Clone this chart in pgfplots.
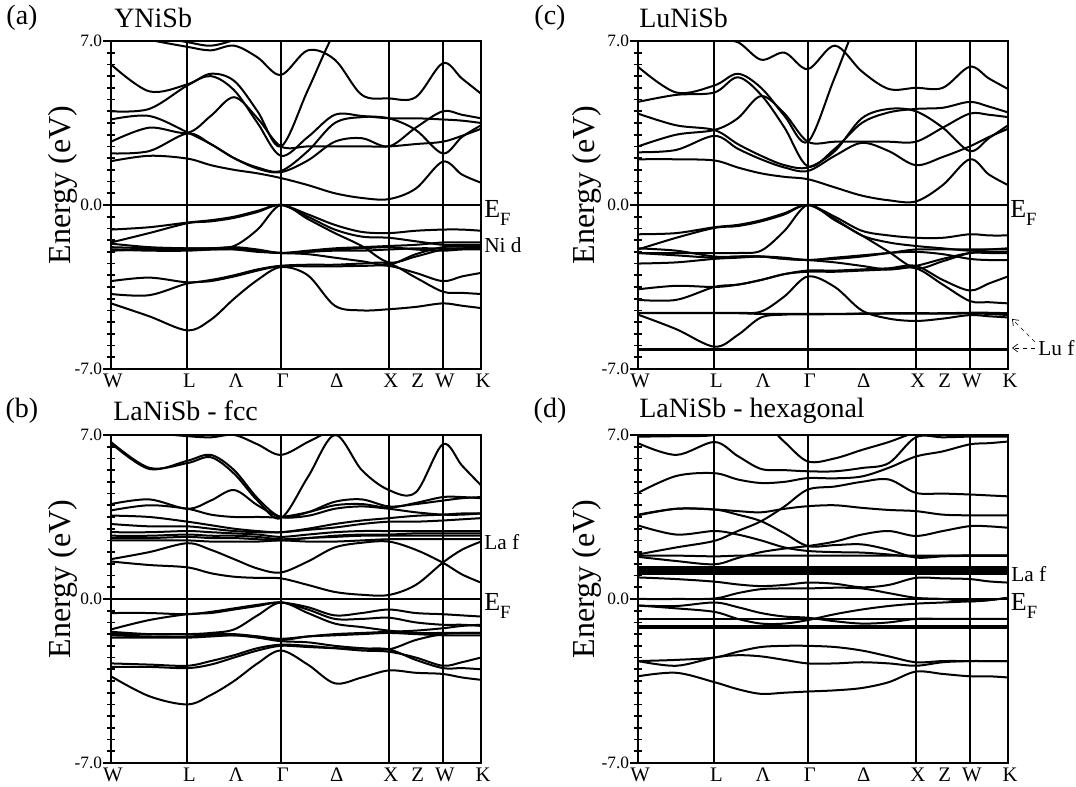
\documentclass[border=0pt]{standalone}
\usepackage{fontspec}
\setmainfont{Liberation Serif}
\usepackage{pgfplots}
\usepackage{pgfplotstable}
\pgfplotsset{compat=1.18}
\usetikzlibrary{arrows.meta,calc}

% ---------- Panel (a) YNiSb ----------
\pgfplotstableread{
band p0 p1 p2 p3 p4 p5 p6 p7 p8 p9 p10 p11 p12 p13 p14
x 0 0.354 0.707 0.924 1.140 1.357 1.573 1.823 2.073 2.323 2.573 2.823 3.073 3.250 3.427
a1 -4.2 -4.75 -5.35 -4.9 -4.0 -3.2 -2.65 -3.0 -4.3 -4.5 -4.45 -4.35 -4.2 -4.3 -4.4
a2 -3.8 -3.85 -3.35 -3.25 -3.05 -2.8 -2.6 -2.55 -2.55 -2.5 -2.5 -3.1 -3.7 -3.75 -3.8
a3 -3.25 -3.1 -3.3 -3.2 -3.0 -2.75 -2.6 -2.62 -2.62 -2.6 -2.6 -2.9 -3.25 -3.05 -2.9
a4 -1.65 -1.8 -1.85 -1.85 -1.85 -1.95 -2.05 -1.95 -1.85 -1.8 -1.75 -1.7 -1.6 -1.6 -1.6
a5 -1.8 -1.85 -1.9 -1.9 -1.9 -2.0 -2.05 -2.1 -2.25 -2.4 -2.55 -2.1 -1.8 -1.75 -1.75
a6 -1.9 -1.95 -1.95 -1.9 -1.88 -1.95 -2.05 -2.0 -1.95 -1.95 -1.9 -1.85 -1.85 -1.85 -1.85
a7 -1.95 -1.9 -1.85 -1.85 -1.8 -1.9 -2.05 -2.0 -1.9 -1.85 -1.8 -1.9 -1.95 -1.9 -1.9
a8 -1.05 -0.95 -0.75 -0.65 -0.5 -0.25 0 -0.4 -0.85 -1.15 -1.2 -1.1 -1.05 -1.05 -1.1
a9 -1.6 -1.2 -0.78 -0.7 -0.55 -0.3 0 -0.5 -1.05 -1.35 -1.4 -1.55 -1.7 -1.7 -1.7
a10 -1.9 -1.9 -1.88 -1.85 -1.75 -1.05 0 -0.6 -1.2 -1.75 -2.45 -2.2 -1.9 -1.85 -1.8
a11 1.87 2.1 1.98 1.7 1.5 1.35 1.15 0.85 0.5 0.3 0.25 0.7 1.85 1.3 0.95
a12 2.2 2.3 3.05 2.6 2.0 1.55 1.4 1.9 2.7 2.85 2.5 3.3 4.0 3.85 3.7
a13 2.7 3.3 3.08 3.8 4.6 3.7 2.5 2.5 2.5 2.5 2.5 2.6 2.7 2.95 3.25
a14 3.65 3.8 3.1 2.6 2.0 1.6 1.45 2.3 3.5 3.75 3.7 3.2 2.2 2.9 3.4
a15 4.0 4.1 5.1 5.5 4.9 3.5 2.1 2.9 3.85 3.8 3.7 3.7 3.65 3.6 3.5
a16 6.0 4.85 5.15 5.6 5.3 4.0 2.5 4.9 7.4 9 9 9 9 9 9
a17 7.4 7.05 6.75 6.6 6.8 6.3 5.55 6.6 6.2 4.7 4.55 4.6 6.05 5.4 4.75
a18 7.6 7.25 6.95 6.8 7.05 7.5 8 8 8 8 8 8 8 8 8
}\rawA
\pgfplotstabletranspose[colnames from=band]\tabA{\rawA}

% ---------- Panel (b) LaNiSb fcc ----------
\pgfplotstableread{
band p0 p1 p2 p3 p4 p5 p6 p7 p8 p9 p10 p11 p12 p13 p14
x 0 0.354 0.707 0.924 1.140 1.357 1.573 1.823 2.073 2.323 2.573 2.823 3.073 3.250 3.427
b1 -3.3 -4.15 -4.5 -4.1 -3.5 -2.75 -2.2 -2.8 -3.6 -3.35 -3.05 -3.15 -3.2 -3.35 -3.45
b2 -2.75 -2.8 -2.85 -2.65 -2.4 -2.1 -1.95 -2.0 -2.1 -2.2 -2.25 -2.5 -2.85 -2.7 -2.5
b3 -2.9 -2.9 -2.95 -2.8 -2.5 -2.2 -2.0 -2.05 -2.1 -2.12 -2.15 -2.6 -2.95 -2.95 -3.0
b4 -1.4 -1.5 -1.5 -1.5 -1.5 -1.6 -1.75 -1.6 -1.5 -1.45 -1.4 -1.35 -1.25 -1.15 -1.1
b5 -1.55 -1.6 -1.6 -1.55 -1.55 -1.65 -1.8 -1.85 -2.0 -2.1 -2.15 -1.75 -1.5 -1.45 -1.45
b6 -1.65 -1.65 -1.65 -1.6 -1.55 -1.6 -1.7 -1.6 -1.55 -1.5 -1.45 -1.5 -1.55 -1.55 -1.55
b7 -0.6 -0.6 -0.65 -0.55 -0.4 -0.25 -0.15 -0.35 -0.7 -0.6 -0.45 -0.6 -0.65 -0.7 -0.75
b8 -1.3 -0.9 -0.65 -0.6 -0.45 -0.3 -0.15 -0.45 -0.85 -0.85 -0.8 -1.0 -1.1 -1.1 -1.15
b9 -1.5 -1.5 -1.5 -1.45 -1.3 -0.7 -0.15 -0.6 -1.05 -1.2 -1.35 -1.45 -1.45 -1.45 -1.45
b10 1.6 1.45 1.35 1.1 0.95 0.9 0.88 0.6 0.3 0.18 0.17 0.6 1.55 2.1 2.45
b11 1.7 2.0 2.38 2.1 1.7 1.3 1.13 1.6 2.2 2.4 2.45 2.1 1.55 1.05 0.7
b12 2.5 2.5 2.5 2.45 2.45 2.45 2.5 2.45 2.45 2.5 2.55 2.55 2.55 2.55 2.55
b13 2.6 2.6 2.65 2.6 2.6 2.55 2.5 2.6 2.65 2.7 2.7 2.7 2.7 2.7 2.7
b14 2.7 2.7 2.75 2.7 2.7 2.65 2.55 2.6 2.7 2.75 2.75 2.8 2.8 2.8 2.8
b15 2.85 2.85 2.9 2.85 2.8 2.75 2.65 2.75 2.85 2.9 2.9 2.9 2.9 2.9 2.9
b16 3.2 3.1 3.1 3.0 2.9 2.85 2.85 2.95 3.05 3.2 3.3 3.3 3.35 3.4 3.45
b17 3.56 3.5 3.3 3.15 3.0 2.9 2.85 3.0 3.2 3.35 3.45 3.55 3.6 3.65 3.65
b18 4.05 4.25 3.85 4.2 4.65 4.0 3.5 3.55 3.85 3.95 3.85 3.7 3.6 3.6 3.65
b19 3.78 4.0 3.85 3.6 3.5 3.5 3.5 3.7 4.0 4.05 3.9 4.1 4.35 4.35 4.3
b20 6.65 5.55 5.9 6.15 5.5 4.3 3.5 3.7 4.15 4.25 3.95 4.05 4.2 4.3 4.35
b21 7.3 7.1 6.95 6.9 7.0 6.6 6.15 6.7 7.3 8 8 8 8 8 8
b22 6.7 5.6 5.8 6.05 5.35 4.2 3.45 5.2 7.0 5.5 4.65 4.55 6.6 5.7 4.85
}\rawB
\pgfplotstabletranspose[colnames from=band]\tabB{\rawB}

% ---------- Panel (c) LuNiSb ----------
\pgfplotstableread{
band p0 p1 p2 p3 p4 p5 p6 p7 p8 p9 p10 p11 p12 p13 p14
x 0 0.354 0.707 0.924 1.140 1.357 1.573 1.823 2.073 2.323 2.573 2.823 3.073 3.250 3.427
c1 -6.15 -6.15 -6.15 -6.15 -6.15 -6.15 -6.15 -6.15 -6.15 -6.15 -6.15 -6.15 -6.15 -6.15 -6.15
c2 -6.2 -6.2 -6.2 -6.2 -6.2 -6.2 -6.2 -6.2 -6.2 -6.2 -6.2 -6.2 -6.2 -6.2 -6.2
c3 -4.6 -4.6 -4.6 -4.6 -4.55 -3.9 -3.05 -3.5 -4.5 -4.85 -4.95 -4.85 -4.7 -4.75 -4.8
c4 -4.62 -4.62 -4.62 -4.62 -4.65 -4.65 -4.65 -4.65 -4.63 -4.62 -4.62 -4.62 -4.6 -4.6 -4.62
c5 -4.68 -5.3 -6.05 -5.55 -4.8 -4.68 -4.67 -4.66 -4.65 -4.64 -4.64 -4.64 -4.63 -4.65 -4.7
c6 -3.6 -3.45 -3.5 -3.4 -3.2 -2.95 -2.8 -2.8 -2.75 -2.7 -2.6 -3.2 -3.65 -3.35 -3.05
c7 -4.05 -4.05 -3.5 -3.4 -3.2 -2.95 -2.85 -2.85 -2.8 -2.75 -2.7 -3.4 -4.1 -4.15 -4.2
c8 -1.85 -1.95 -2.2 -2.2 -2.2 -2.3 -2.35 -2.3 -2.2 -2.05 -1.9 -1.9 -1.9 -1.9 -1.9
c9 -2.05 -2.15 -2.25 -2.2 -2.2 -2.3 -2.35 -2.45 -2.6 -2.75 -2.6 -2.3 -2.05 -2.05 -2.05
c10 -2.5 -2.45 -2.3 -2.25 -2.2 -2.25 -2.35 -2.25 -2.15 -2.05 -2.0 -2.1 -2.3 -2.35 -2.35
c11 -1.25 -1.2 -0.95 -0.85 -0.65 -0.35 0 -0.5 -1.1 -1.3 -1.4 -1.4 -1.25 -1.3 -1.3
c12 -1.9 -1.4 -0.98 -0.9 -0.7 -0.4 0 -0.6 -1.3 -1.6 -1.75 -1.85 -1.95 -1.9 -1.85
c13 -2.05 -2.05 -2.05 -2.05 -1.95 -1.1 0 -0.65 -1.3 -2.0 -2.7 -2.4 -2.05 -2.0 -2.0
c14 1.95 1.95 1.9 1.6 1.35 1.2 1.1 0.75 0.4 0.2 0.15 0.85 1.95 1.3 0.85
c15 2.25 2.35 2.95 2.4 1.95 1.6 1.45 2.1 2.65 2.3 1.7 2.05 2.5 2.9 3.25
c16 2.5 3.0 3.2 3.7 4.65 3.9 2.7 2.7 2.7 2.7 2.7 3.3 3.9 3.85 3.75
c17 3.9 3.4 3.2 2.6 2.1 1.7 1.6 2.3 3.7 4.1 4.0 3.3 2.3 2.85 3.4
c18 4.4 4.7 4.8 5.45 4.7 3.3 1.65 2.4 3.5 3.95 4.1 4.15 4.4 4.2 3.95
c19 5.9 4.8 5.1 5.6 5.0 3.8 2.7 5.45 8.2 9 9 9 9 9 9
c20 7.6 7.3 7.05 6.95 6.2 6.5 5.8 6.8 5.7 4.95 5.0 5.0 5.9 5.4 4.95
}\rawC
\pgfplotstabletranspose[colnames from=band]\tabC{\rawC}

% ---------- Panel (d) LaNiSb hexagonal ----------
\pgfplotstableread{
band p0 p1 p2 p3 p4 p5 p6 p7 p8 p9 p10 p11 p12 p13 p14
x 0 0.354 0.707 0.924 1.140 1.357 1.573 1.823 2.073 2.323 2.573 2.823 3.073 3.250 3.427
d1 -3.3 -3.15 -3.55 -3.85 -4.05 -4.0 -3.95 -3.9 -3.8 -3.55 -3.1 -3.2 -3.3 -3.3 -3.35
d2 -2.65 -2.85 -2.5 -2.4 -2.45 -2.6 -2.75 -2.75 -2.7 -2.75 -2.85 -2.7 -2.65 -2.65 -2.65
d3 -2.65 -2.6 -2.5 -2.25 -2.05 -2.0 -2.0 -2.05 -2.2 -2.45 -2.7 -2.65 -2.65 -2.65 -2.65
d4 -1.15 -1.15 -1.15 -1.15 -1.15 -1.15 -1.15 -1.15 -1.15 -1.15 -1.15 -1.15 -1.15 -1.15 -1.15
d5 -1.25 -1.25 -1.25 -1.25 -1.25 -1.25 -1.25 -1.25 -1.25 -1.25 -1.25 -1.25 -1.25 -1.25 -1.25
d6 -0.85 -0.85 -0.85 -0.85 -0.85 -0.85 -0.85 -0.85 -0.85 -0.85 -0.85 -0.85 -0.85 -0.85 -0.85
d7 -0.28 -0.4 -0.55 -0.85 -1.05 -1.05 -0.9 -0.65 -0.45 -0.3 -0.2 -0.15 -0.1 -0.05 0.05
d8 0.0 0.0 0.02 0.25 0.42 0.45 0.45 0.48 0.45 0.25 0.05 0.0 -0.1 -0.05 0.05
d9 -0.28 -0.3 -0.15 -0.35 -0.6 -0.75 -0.8 -0.95 -1.05 -1.0 -0.85 -0.85 -0.85 -0.85 -0.85
d10 0.92 0.85 0.74 0.62 0.55 0.6 0.7 0.65 0.5 0.6 0.9 0.88 0.85 0.75 0.7
d11 1.05 1.05 1.05 1.05 1.05 1.05 1.05 1.05 1.05 1.05 1.05 1.05 1.05 1.05 1.05
d12 1.13 1.13 1.13 1.13 1.13 1.13 1.13 1.13 1.13 1.13 1.13 1.13 1.13 1.13 1.13
d13 1.21 1.21 1.21 1.21 1.21 1.21 1.21 1.21 1.21 1.21 1.21 1.21 1.21 1.21 1.21
d14 1.29 1.29 1.29 1.29 1.29 1.29 1.29 1.29 1.29 1.29 1.29 1.29 1.29 1.29 1.29
d15 1.37 1.37 1.37 1.37 1.37 1.37 1.37 1.37 1.37 1.37 1.37 1.37 1.37 1.37 1.37
d16 1.85 1.85 1.82 1.85 1.85 1.85 1.85 1.85 1.85 1.85 1.85 1.85 1.85 1.85 1.85
d17 3.57 3.85 3.82 3.75 3.7 3.85 3.96 4.0 3.89 3.8 3.75 3.6 3.57 3.57 3.57
d18 1.9 2.2 2.48 2.9 3.32 3.95 4.67 4.8 5.0 5.1 4.53 4.5 4.46 4.42 4.38
d19 4.53 5.25 5.37 5.1 4.95 5.0 5.16 5.15 5.23 5.6 6.08 6.3 6.6 6.65 6.72
d20 3.6 3.85 3.82 3.6 3.32 2.8 2.26 2.3 2.33 2.1 1.77 1.82 1.84 1.84 1.84
d21 3.14 2.75 2.9 2.75 2.5 2.2 2.05 2.0 1.98 1.9 1.8 1.84 1.86 1.86 1.86
d22 1.8 1.62 1.48 1.75 2.0 2.15 2.26 2.45 2.75 2.9 2.69 2.9 3.11 3.1 3.04
d23 6.65 6.15 6.7 6.1 5.55 5.5 5.45 5.45 5.59 5.8 6.9 6.9 6.93 6.93 6.93
d24 6.93 6.95 7.0 7.4 7.6 6.7 5.87 6.0 6.36 6.7 7.1 7.2 7.3 7.3 7.3
}\rawD
\pgfplotstabletranspose[colnames from=band]\tabD{\rawD}

\pgfplotsset{
  bnd/.style={black, line width=1.5pt, smooth, tension=0.55, no markers},
  sym/.style={black, line width=1.3pt, no markers},
  bandaxis/.style={
    scale only axis, width=277.5pt, height=246pt,
    xmin=0, xmax=3.427, ymin=-7, ymax=7,
    axis line style={line width=1.8pt},
    xtick={0,0.707,1.140,1.573,2.073,2.573,2.823,3.073,3.427},
    xticklabels={W,L,Λ,Γ,Δ,X,Z,W,K},
    xticklabel style={font=\fontsize{15.5}{15.5}\selectfont, inner sep=0pt,
      text height=10.5pt, text depth=0pt, xshift=1.5pt, yshift=-3.5pt},
    ytick={-7,0,7}, yticklabels={-7.0,0.0,7.0},
    major tick length=0pt,
    tick style={draw=none},
    yticklabel style={font=\fontsize{13}{13}\selectfont, inner sep=0pt, xshift=-6.5pt},
  },
}

% left-axis tick marks (every 0.5 eV) at each panel's left edge
\newcommand{\leftticks}[2]{%
  \foreach \k in {0,...,28}{%
    \draw[black, line width=1.3pt] ($(#1,#2)+(-3.2pt,\k*8.7857pt)$) -- ++(6.4pt,0);
  }%
  \foreach \k in {0,14,28}{%
    \draw[black, line width=1.3pt] ($(#1,#2)+(-6pt,\k*8.7857pt)$) -- ++(6pt,0);
  }%
}

\begin{document}
\begin{tikzpicture}
\useasboundingbox (0,0) rectangle (807pt,590.25pt);

% (a)
\begin{axis}[bandaxis, at={(83.25pt,313.5pt)}, anchor=south west]
  \addplot[sym] coordinates {(0.707,-7) (0.707,7)};
  \addplot[sym] coordinates {(1.573,-7) (1.573,7)};
  \addplot[sym] coordinates {(2.573,-7) (2.573,7)};
  \addplot[sym] coordinates {(3.073,-7) (3.073,7)};
  \addplot[sym] coordinates {(0,0) (3.427,0)};
  \pgfplotsinvokeforeach{1,...,18}{\addplot[bnd] table[x=x,y=a#1]{\tabA};}
\end{axis}

% (c)
\begin{axis}[bandaxis, at={(478.5pt,313.5pt)}, anchor=south west]
  \addplot[sym] coordinates {(0.707,-7) (0.707,7)};
  \addplot[sym] coordinates {(1.573,-7) (1.573,7)};
  \addplot[sym] coordinates {(2.573,-7) (2.573,7)};
  \addplot[sym] coordinates {(3.073,-7) (3.073,7)};
  \addplot[sym] coordinates {(0,0) (3.427,0)};
  \pgfplotsinvokeforeach{1,...,20}{\addplot[bnd] table[x=x,y=c#1]{\tabC};}
\end{axis}

% (b)
\begin{axis}[bandaxis, at={(83.25pt,18pt)}, anchor=south west]
  \addplot[sym] coordinates {(0.707,-7) (0.707,7)};
  \addplot[sym] coordinates {(1.573,-7) (1.573,7)};
  \addplot[sym] coordinates {(2.573,-7) (2.573,7)};
  \addplot[sym] coordinates {(3.073,-7) (3.073,7)};
  \addplot[sym] coordinates {(0,0) (3.427,0)};
  \pgfplotsinvokeforeach{1,...,22}{\addplot[bnd] table[x=x,y=b#1]{\tabB};}
\end{axis}

% (d)
\begin{axis}[bandaxis, at={(478.5pt,18pt)}, anchor=south west]
  \addplot[sym] coordinates {(0.707,-7) (0.707,7)};
  \addplot[sym] coordinates {(1.573,-7) (1.573,7)};
  \addplot[sym] coordinates {(2.573,-7) (2.573,7)};
  \addplot[sym] coordinates {(3.073,-7) (3.073,7)};
  \addplot[sym] coordinates {(0,0) (3.427,0)};
  \pgfplotsinvokeforeach{1,...,24}{\addplot[bnd] table[x=x,y=d#1]{\tabD};}
\end{axis}

\leftticks{83.25pt}{313.5pt}
\leftticks{478.5pt}{313.5pt}
\leftticks{83.25pt}{18pt}
\leftticks{478.5pt}{18pt}

% panel letters and titles
\begin{scope}[every node/.style={font=\fontsize{21}{21}\selectfont, inner sep=0pt}]
  \node at (16.5pt,576.75pt) {(a)};
  \node[anchor=west] at (85.5pt,576.75pt) {YNiSb};
  \node at (412.5pt,576.75pt) {(c)};
  \node[anchor=west] at (479.25pt,576.75pt) {LuNiSb};
  \node at (16.5pt,282pt) {(b)};
  \node[anchor=west] at (84.75pt,282pt) {LaNiSb - fcc};
  \node at (412.5pt,282pt) {(d)};
  \node[anchor=west] at (479.25pt,282pt) {LaNiSb - hexagonal};
\end{scope}

% y labels
\begin{scope}[every node/.style={font=\fontsize{24}{24}\selectfont, inner sep=0pt, rotate=90}]
  \node at (47.25pt,451.5pt) {Energy (eV)};
  \node at (440.25pt,451.5pt) {Energy (eV)};
  \node at (47.25pt,156pt) {Energy (eV)};
  \node at (440.25pt,156pt) {Energy (eV)};
\end{scope}

% E_F labels
\begin{scope}[every node/.style={font=\fontsize{19.5}{19.5}\selectfont, inner sep=0pt, anchor=base west}]
  \node at (363pt,426.75pt) {E\raisebox{-0.3em}{\fontsize{14}{14}\selectfont F}};
  \node at (757.5pt,426.75pt) {E\raisebox{-0.3em}{\fontsize{14}{14}\selectfont F}};
  \node at (363pt,132pt) {E\raisebox{-0.3em}{\fontsize{14}{14}\selectfont F}};
  \node at (758pt,132pt) {E\raisebox{-0.3em}{\fontsize{14}{14}\selectfont F}};
\end{scope}

% orbital labels
\begin{scope}[every node/.style={font=\fontsize{16}{16}\selectfont, inner sep=0pt, anchor=base west}]
  \node at (363pt,400.5pt) {Ni d};
  \node at (363pt,177.75pt) {La f};
  \node at (758.25pt,153.75pt) {La f};
\end{scope}
\node[font=\fontsize{16}{16}\selectfont, inner sep=0pt, anchor=west] at (778.5pt,329.25pt) {Lu f};
\draw[dashed, line width=0.5pt, -{Straight Barb[length=4pt,width=6pt]}] (776.25pt,333.75pt) -- (759pt,351pt);
\draw[dashed, line width=0.5pt, -{Straight Barb[length=4pt,width=6pt]}] (776.25pt,329.25pt) -- (759pt,329.25pt);
\end{tikzpicture}
\end{document}
